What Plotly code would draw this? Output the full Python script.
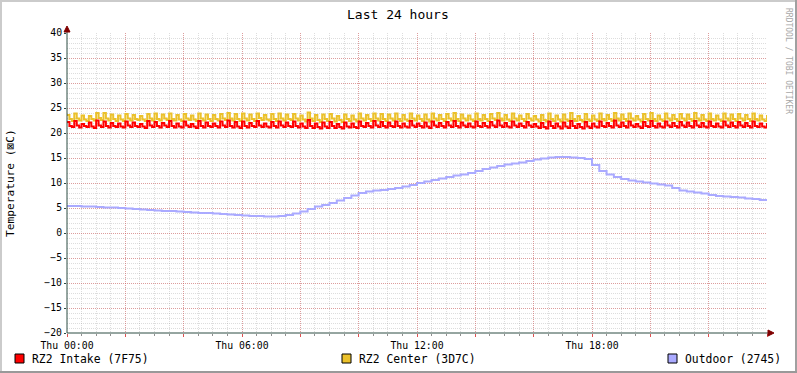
import pandas as pd
import plotly.graph_objects as go

# ---------------- data ----------------
center_c = [
23.6,22.8,22.4, 23.9,22.9,22.5, 23.5,22.7,22.4, 23.4,22.8,22.5,
24.0,23.0,22.6, 24.0,22.9,22.5, 23.7,22.8,22.4, 23.5,22.7,22.4,
23.8,22.9,22.5, 23.6,22.8,22.6, 23.4,22.7,22.4, 23.8,22.9,22.5,
23.9,22.8,22.5, 23.7,22.9,22.6, 23.9,22.8,22.5, 23.6,22.7,22.4,
23.8,22.9,22.6, 23.5,22.7,22.4, 23.9,22.9,22.5, 23.7,22.8,22.4,
23.6,22.8,22.5, 23.8,22.9,22.6, 24.0,22.9,22.5, 23.8,22.8,22.4,
23.9,22.9,22.5, 23.7,22.8,22.4, 23.9,23.0,22.6, 23.6,22.7,22.5,
23.8,22.8,22.4, 23.9,22.9,22.5, 23.7,22.8,22.6, 23.8,22.9,22.5,
23.5,22.7,22.3, 24.1,22.9,22.4, 23.6,22.6,22.2, 23.7,22.8,22.4,
23.8,22.9,22.3, 23.4,22.6,22.2, 23.7,22.8,22.4, 23.5,22.7,22.3,
23.9,22.9,22.5, 23.6,22.8,22.4, 23.9,22.9,22.5, 23.8,22.8,22.4,
23.7,22.9,22.5, 23.9,22.8,22.4, 23.6,22.7,22.4, 23.9,22.9,22.5,
23.5,22.8,22.4, 23.7,22.7,22.3, 23.9,22.9,22.5, 23.6,22.8,22.4,
23.8,22.9,22.5, 24.0,22.8,22.4, 23.7,22.9,22.5, 23.5,22.7,22.4,
23.9,22.8,22.5, 23.6,22.8,22.4, 23.8,22.9,22.6, 24.0,22.9,22.5,
23.6,22.7,22.4, 23.9,22.9,22.5, 23.5,22.8,22.4, 23.8,22.9,22.5,
23.4,22.7,22.3, 23.6,22.6,22.3, 23.9,22.8,22.4, 23.5,22.7,22.3,
23.7,22.7,22.4, 24.0,22.8,22.4, 23.4,22.6,22.3, 23.8,22.7,22.4,
23.5,22.7,22.4, 23.9,22.8,22.5, 23.6,22.8,22.4, 24.0,22.9,22.5,
23.7,22.8,22.4, 23.9,22.9,22.5, 23.4,22.7,22.3, 23.8,22.8,22.5,
24.0,22.8,22.4, 23.5,22.7,22.4, 23.9,22.9,22.5, 23.6,22.8,22.4,
23.8,22.9,22.5, 23.7,22.8,22.4, 24.0,22.9,22.5, 23.6,22.7,22.4,
23.9,22.8,22.5, 23.5,22.7,22.4, 23.9,22.9,22.5, 23.7,22.8,22.4,
23.8,22.9,22.5, 23.6,22.8,22.4, 23.9,22.8,22.5, 23.5,22.7,22.4,
23.6]

intake_c = [
22.2,21.4,21.2, 22.4,21.5,21.1, 21.8,21.4,21.2, 22.1,21.3,21.0,
22.5,21.5,21.2, 22.3,21.4,21.1, 22.0,21.4,21.2, 21.9,21.3,21.1,
22.3,21.5,21.2, 22.1,21.4,21.2, 21.8,21.3,21.0, 22.4,21.5,21.2,
22.2,21.4,21.1, 22.0,21.5,21.2, 22.4,21.4,21.1, 21.9,21.3,21.1,
22.3,21.5,21.2, 21.8,21.3,21.0, 22.4,21.4,21.1, 22.1,21.4,21.2,
21.9,21.4,21.1, 22.3,21.5,21.2, 22.5,21.4,21.1, 22.2,21.3,21.0,
22.3,21.4,21.1, 22.0,21.4,21.2, 22.4,21.5,21.2, 21.9,21.3,21.1,
22.2,21.4,21.1, 22.3,21.5,21.2, 22.1,21.4,21.2, 22.3,21.4,21.1,
21.9,21.3,21.0, 22.6,21.4,21.0, 21.9,21.2,20.9, 22.1,21.3,21.0,
22.2,21.4,21.0, 21.8,21.2,20.9, 22.1,21.3,21.1, 21.9,21.2,21.0,
22.3,21.4,21.2, 22.0,21.4,21.1, 22.4,21.5,21.2, 22.2,21.4,21.1,
22.1,21.4,21.2, 22.3,21.4,21.1, 21.9,21.3,21.1, 22.4,21.5,21.2,
21.9,21.4,21.1, 22.1,21.3,21.0, 22.3,21.5,21.2, 22.0,21.4,21.1,
22.2,21.5,21.2, 22.4,21.4,21.1, 22.1,21.5,21.2, 21.9,21.3,21.1,
22.3,21.4,21.2, 22.0,21.4,21.1, 22.2,21.5,21.2, 22.5,21.5,21.2,
22.0,21.3,21.1, 22.3,21.5,21.2, 21.9,21.4,21.1, 22.2,21.5,21.2,
21.8,21.3,21.0, 22.0,21.2,20.9, 22.3,21.4,21.0, 21.9,21.3,20.9,
22.1,21.3,21.0, 22.4,21.4,21.0, 21.8,21.2,20.9, 22.2,21.3,21.0,
21.9,21.3,21.1, 22.3,21.4,21.2, 22.0,21.4,21.1, 22.5,21.5,21.2,
22.1,21.4,21.1, 22.3,21.5,21.2, 21.8,21.3,21.0, 22.2,21.4,21.2,
22.4,21.4,21.1, 21.9,21.3,21.1, 22.3,21.5,21.2, 22.0,21.4,21.1,
22.2,21.5,21.2, 22.1,21.4,21.1, 22.4,21.5,21.2, 22.0,21.3,21.1,
22.3,21.4,21.2, 21.9,21.3,21.1, 22.3,21.5,21.2, 22.1,21.4,21.1,
22.2,21.5,21.2, 22.0,21.4,21.1, 22.3,21.4,21.2, 21.9,21.3,21.1,
22.0]

outdoor_c = [
5.4, 5.4, 5.3, 5.3,
5.2, 5.1, 5.1, 5.0,
4.9, 4.8, 4.7, 4.6,
4.5, 4.4, 4.4, 4.3,
4.2, 4.1, 4.0, 4.0,
3.9, 3.8, 3.7, 3.6,
3.5, 3.4, 3.4, 3.3,
3.3, 3.4, 3.6, 3.9,
4.3, 4.8, 5.3, 5.6,
6.0, 6.5, 7.0, 7.5,
8.0, 8.3, 8.5, 8.6,
8.8, 9.0, 9.3, 9.6,
10.0, 10.3, 10.6, 10.9,
11.2, 11.5, 11.7, 12.0,
12.4, 12.8, 13.1, 13.4,
13.7, 13.9, 14.1, 14.4,
14.7, 14.9, 15.1, 15.2,
15.2, 15.1, 15.0, 14.8,
13.6, 12.4, 11.7, 11.2,
10.8, 10.5, 10.3, 10.1,
9.9, 9.7, 9.5, 9.0,
8.5, 8.3, 8.1, 7.9,
7.6, 7.4, 7.3, 7.2,
7.1, 6.9, 6.8, 6.6,
6.7]

series_names = ["RZ2 Intake (7F75)", "RZ2 Center (3D7C)", "Outdoor (2745)"]
series_colors = ["#FF0000", "#EBC12B", "#AAAAFF"]
x_tick_labels = ["Thu 00:00", "", "", "Thu 06:00", "", "", "Thu 12:00", "", "", "Thu 18:00", "", "", ""]
y_ticks = [-20, -15, -10, -5, 0, 5, 10, 15, 20, 25, 30, 35, 40]

start = pd.Timestamp("2024-01-04 00:00")
t5 = pd.date_range(start, periods=len(center_c), freq="5min")
t15 = pd.date_range(start, periods=len(outdoor_c), freq="15min")
tick_times = pd.date_range(start, periods=13, freq="2h")

# ---------------- geometry helpers (pixel -> paper) ----------------
L, R, T, B = 67, 767, 33, 333
def px(x):
    return (x - L) / (R - L)
def py(y):
    return (B - y) / (B - T)

FONT = "DejaVu Sans Mono"

fig = go.Figure()
fig.add_trace(go.Scatter(x=t5, y=center_c, mode="lines", line=dict(color=series_colors[1], width=2, shape="hv"),
                         name=series_names[1], hoverinfo="skip"))
fig.add_trace(go.Scatter(x=t5, y=intake_c, mode="lines", line=dict(color=series_colors[0], width=2, shape="hv"),
                         name=series_names[0], hoverinfo="skip"))
fig.add_trace(go.Scatter(x=t15, y=outdoor_c, mode="lines", line=dict(color=series_colors[2], width=2, shape="hv"),
                         name=series_names[2], hoverinfo="skip"))

shapes = []
# outer frame shading
shapes.append(dict(type="rect", xref="paper", yref="paper", x0=px(0), x1=px(797), y0=py(0), y1=py(2),
                   fillcolor="#CBCBCB", line=dict(width=0), layer="above"))
shapes.append(dict(type="rect", xref="paper", yref="paper", x0=px(0), x1=px(2), y0=py(0), y1=py(373),
                   fillcolor="#CBCBCB", line=dict(width=0), layer="above"))
shapes.append(dict(type="rect", xref="paper", yref="paper", x0=px(795), x1=px(797), y0=py(0), y1=py(373),
                   fillcolor="#A0A0A0", line=dict(width=0), layer="above"))
shapes.append(dict(type="rect", xref="paper", yref="paper", x0=px(0), x1=px(797), y0=py(371), y1=py(373),
                   fillcolor="#999999", line=dict(width=0), layer="above"))
# axis lines and arrows
shapes.append(dict(type="line", xref="paper", yref="paper", x0=px(67), x1=px(67), y0=py(333), y1=py(30),
                   line=dict(color="#2C4D43", width=1), layer="above"))
shapes.append(dict(type="line", xref="paper", yref="paper", x0=px(67), x1=px(770), y0=py(333), y1=py(333),
                   line=dict(color="#2C4D43", width=1), layer="above"))
shapes.append(dict(type="path", xref="paper", yref="paper",
                   path=f"M {px(67)} {py(26)} L {px(64)} {py(32)} L {px(70)} {py(32)} Z",
                   fillcolor="#7F0000", line=dict(color="#7F0000", width=1), layer="above"))
shapes.append(dict(type="path", xref="paper", yref="paper",
                   path=f"M {px(774)} {py(333)} L {px(768)} {py(330)} L {px(768)} {py(336)} Z",
                   fillcolor="#7F0000", line=dict(color="#7F0000", width=1), layer="above"))
# legend swatches
for sx, col in zip([15, 342, 668], series_colors):
    shapes.append(dict(type="rect", xref="paper", yref="paper", x0=px(sx), x1=px(sx + 9), y0=py(363), y1=py(354),
                       fillcolor=col, line=dict(color="#000000", width=1), layer="above"))

annotations = []
annotations.append(dict(text="Last 24 hours", xref="paper", yref="paper", x=px(398), y=py(14),
                        showarrow=False, font=dict(family=FONT, size=13, color="#000000"),
                        xanchor="center", yanchor="middle"))
annotations.append(dict(text="Temperature (⊠C)", xref="paper", yref="paper", x=px(10), y=py(183),
                        showarrow=False, textangle=-90, font=dict(family=FONT, size=11.2, color="#000000"),
                        xanchor="center", yanchor="middle"))
annotations.append(dict(text="RRDTOOL / TOBI OETIKER", xref="paper", yref="paper", x=px(789), y=py(61),
                        showarrow=False, textangle=90, font=dict(family=FONT, size=8, color="#A8A8A8"),
                        xanchor="center", yanchor="middle"))
for tx, name in zip([30, 357, 683], series_names):
    annotations.append(dict(text=name, xref="paper", yref="paper", x=px(tx), y=py(359),
                            showarrow=False, font=dict(family=FONT, size=11.4, color="#000000"),
                            xanchor="left", yanchor="middle"))

fig.update_layout(
    width=797, height=373,
    margin=dict(l=L, r=797 - R, t=T, b=373 - B, pad=0),
    paper_bgcolor="#FFFFFF", plot_bgcolor="#FFFFFF",
    showlegend=False,
    shapes=shapes, annotations=annotations,
    font=dict(family=FONT, color="#000000"),
)
fig.update_xaxes(
    type="date", range=[tick_times[0], tick_times[-1]],
    tickmode="array", tickvals=tick_times, ticktext=x_tick_labels,
    tickfont=dict(family=FONT, size=9.8, color="#000000"),
    showgrid=True, gridcolor="rgba(222,80,80,0.45)", griddash="1px,1px", gridwidth=1,
    ticks="outside", ticklen=3, tickcolor="#DE5050",
    minor=dict(dtick=30 * 60 * 1000, showgrid=True, gridcolor="rgba(143,143,143,0.3)", griddash="1px,1px",
               ticks="outside", ticklen=2, tickcolor="#8F8F8F"),
    showline=False, zeroline=False, fixedrange=True,
)
fig.update_yaxes(
    range=[-20, 40], tickmode="array", tickvals=y_ticks,
    tickfont=dict(family=FONT, size=9.8, color="#000000"),
    showgrid=True, gridcolor="rgba(222,80,80,0.45)", griddash="1px,1px", gridwidth=1,
    ticks="outside", ticklen=2, tickcolor="#2C4D43",
    minor=dict(dtick=1, showgrid=True, gridcolor="rgba(143,143,143,0.3)", griddash="1px,1px"),
    showline=False, zeroline=False, fixedrange=True,
)

fig.write_html("out.html", config={"displayModeBar": False},
               post_script="document.body.style.margin='0';document.body.style.padding='0';"
                           "document.documentElement.style.overflow='hidden';")
